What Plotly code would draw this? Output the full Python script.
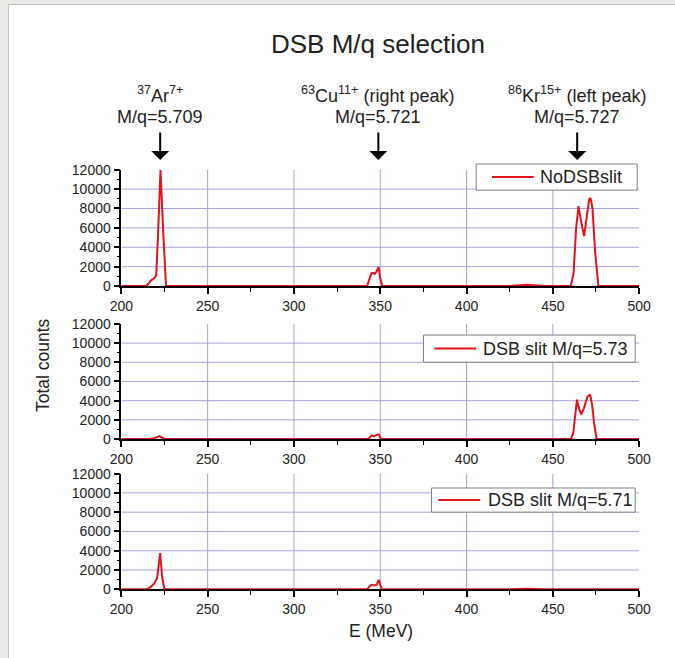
import plotly.graph_objects as go

# ---------------- data ----------------
SERIES_NAMES = ["NoDSBslit", "DSB slit M/q=5.73", "DSB slit M/q=5.71"]

E_NODSB = [200, 214.4, 216.0, 217.3, 219.0, 220.2, 221.2, 222.7, 224.3, 225.9,
           300, 342.4, 343.5, 344.9, 346.0, 346.8, 347.8, 349.1, 350.0, 351.2,
           425, 435, 445, 460.4, 462.0, 463.5, 464.9, 466.0, 468.1, 469.5,
           471.0, 471.8, 473.0, 474.5, 476.4, 500]
C_NODSB = [0, 0, 300, 600, 800, 1100, 5000, 12000, 5500, 0,
           0, 0, 600, 1300, 1350, 1250, 1500, 1950, 800, 0,
           0, 120, 0, 0, 1300, 6000, 8250, 7000, 5150, 6800,
           8900, 9100, 8000, 3500, 0, 0]

E_S573 = [200, 216.0, 219.0, 221.0, 222.3, 223.5, 225.0,
          300, 343.0, 344.9, 346.5, 347.5, 349.1, 350.5,
          400, 460.4, 461.8, 463.0, 464.0, 465.0, 466.4, 468.0,
          470.0, 471.6, 472.8, 474.0, 475.4, 500]
C_S573 = [0, 0, 80, 200, 300, 150, 0,
          0, 0, 350, 300, 400, 480, 0,
          0, 0, 600, 2500, 4100, 3300, 2550, 3200,
          4400, 4650, 3500, 1500, 0, 0]

E_S571 = [200, 215.0, 217.0, 219.2, 220.7, 222.5, 223.7, 225.0,
          300, 342.5, 343.6, 344.9, 346.5, 348.0, 349.1, 350.0, 350.9,
          425, 435, 445, 500]
C_S571 = [0, 0, 250, 630, 1150, 3760, 1200, 0,
          0, 0, 280, 460, 400, 480, 980, 400, 0,
          0, 60, 0, 0]

X_TICKS = [200, 250, 300, 350, 400, 450, 500]
X_MINOR = [225, 275, 325, 375, 425, 475]
Y_TICKS = [0, 2000, 4000, 6000, 8000, 10000, 12000]
X_GRID = [250, 300, 350, 400, 450]
Y_GRID = [2000, 4000, 6000, 8000, 10000]

ION_LABELS = ["<sup>37</sup>Ar<sup>7+</sup>",
              "<sup>63</sup>Cu<sup>11+</sup> (right peak)",
              "<sup>86</sup>Kr<sup>15+</sup> (left peak)"]
MQ_LABELS = ["M/q=5.709", "M/q=5.721", "M/q=5.727"]
ION_E = [222.5, 348.9, 464.1]

TITLE = "DSB M/q selection"
X_TITLE = "E (MeV)"
Y_TITLE = "Total counts"

# ---------------- layout helpers ----------------
W, H = 675, 658
OFF = 10                      # observed inner offset of the paper area
GW, GH = W - 2 * OFF, H - 2 * OFF
FONT = "Liberation Sans, Arial, sans-serif"
RED = "#e3121b"
GRID = "#a3a3dc"
TXT = "#222222"


def px_x(p):
    return (p - OFF) / GW


def px_y(p):
    return 1 - (p - OFF) / GH


x_dom = [px_x(120), px_x(641)]
y_doms = [[px_y(286.3), px_y(170.7)],
          [px_y(438.3), px_y(324.0)],
          [px_y(587.7), px_y(472.7)]]

data_sets = [(E_NODSB, C_NODSB), (E_S573, C_S573), (E_S571, C_S571)]
# legend boxes (pixel): left, right, top, bottom, line x0, line x1, text x
legend_boxes = [(477, 639, 165, 191, 493, 535, 539),
                (424, 637, 335, 362, 435, 477, 482),
                (432, 637, 487, 511, 439, 481, 487)]

fig = go.Figure()
shapes = []
annotations = []
layout_axes = {}

# outer frame card
shapes.append(dict(type="rect", xref="paper", yref="paper",
                   x0=px_x(6.5), x1=px_x(680), y0=px_y(665), y1=px_y(6.5),
                   fillcolor="white", line=dict(color="#c4c4c4", width=1),
                   layer="below"))

for i, ((ex, cy), name) in enumerate(zip(data_sets, SERIES_NAMES)):
    n = "" if i == 0 else str(i + 1)
    xa, ya = "x" + n, "y" + n
    fig.add_trace(go.Scatter(x=ex, y=cy, mode="lines", name=name,
                             line=dict(color=RED, width=2),
                             xaxis=xa, yaxis=ya, showlegend=False))
    axis_layer = "below traces" if i == 2 else "above traces"
    layout_axes["xaxis" + n] = dict(
        domain=x_dom, anchor=ya, range=[200, 500], tickvals=X_TICKS,
        ticktext=[str(v) for v in X_TICKS],
        showgrid=False, zeroline=False, showline=True, linecolor="black",
        linewidth=1.5, ticks="outside", ticklen=6, tickwidth=1.5,
        tickcolor="black", layer=axis_layer,
        tickfont=dict(family=FONT, size=14, color=TXT),
        minor=dict(tickvals=X_MINOR, ticks="outside",
                   ticklen=4, tickwidth=1.2, tickcolor="black", showgrid=False),
        fixedrange=True)
    layout_axes["yaxis" + n] = dict(
        domain=y_doms[i], anchor=xa, range=[0, 12000], tickvals=Y_TICKS,
        ticktext=[str(v) for v in Y_TICKS],
        showgrid=False, zeroline=False, showline=True, linecolor="black",
        linewidth=1.5, ticks="outside", ticklen=6, tickwidth=1.5,
        tickcolor="black", layer=axis_layer,
        tickfont=dict(family=FONT, size=14, color=TXT),
        minor=dict(dtick=1000, tick0=0, ticks="outside", ticklen=3,
                   tickwidth=1.2, tickcolor="black", showgrid=False),
        fixedrange=True)
    for xv in X_GRID:
        shapes.append(dict(type="line", xref=xa, yref=ya, x0=xv, x1=xv,
                           y0=0, y1=12000, line=dict(color=GRID, width=1),
                           layer="below"))
    for yv in Y_GRID:
        shapes.append(dict(type="line", xref=xa, yref=ya, x0=200, x1=500,
                           y0=yv, y1=yv, line=dict(color=GRID, width=1),
                           layer="below"))
    # legend box drawn as shapes + text
    l, r, t, b, lx0, lx1, tx = legend_boxes[i]
    cy_ = (t + b) / 2
    shapes.append(dict(type="rect", xref="paper", yref="paper",
                       x0=px_x(l), x1=px_x(r), y0=px_y(b), y1=px_y(t),
                       fillcolor="white", line=dict(color="#7f7f7f", width=1),
                       layer="above"))
    shapes.append(dict(type="line", xref="paper", yref="paper",
                       x0=px_x(lx0), x1=px_x(lx1), y0=px_y(cy_), y1=px_y(cy_),
                       line=dict(color=RED, width=2), layer="above"))
    annotations.append(dict(x=px_x(tx), y=px_y(cy_), xref="paper",
                            yref="paper", text=name, showarrow=False,
                            xanchor="left", yanchor="middle",
                            font=dict(family=FONT, size=18, color=TXT)))

for lab, mq, e in zip(ION_LABELS, MQ_LABELS, ION_E):
    annotations.append(dict(x=e, xref="x", y=px_y(96), yref="paper",
                            text=lab, showarrow=False, xanchor="center",
                            yanchor="middle",
                            font=dict(family=FONT, size=18, color=TXT)))
    annotations.append(dict(x=e, xref="x", y=px_y(118), yref="paper",
                            text=mq, showarrow=False, xanchor="center",
                            yanchor="middle",
                            font=dict(family=FONT, size=18, color=TXT)))
    annotations.append(dict(x=e, xref="x", y=px_y(161), yref="paper",
                            ax=0, ay=-29, text="", showarrow=True,
                            arrowhead=1, arrowsize=1.5, arrowwidth=2,
                            arrowcolor="black"))

annotations.append(dict(x=px_x(41), y=px_y(365), xref="paper", yref="paper",
                        text=Y_TITLE, textangle=-90, showarrow=False,
                        xanchor="center", yanchor="middle",
                        font=dict(family=FONT, size=17.5, color=TXT)))
annotations.append(dict(x=px_x(381), y=px_y(629), xref="paper", yref="paper",
                        text=X_TITLE, showarrow=False,
                        xanchor="center", yanchor="middle",
                        font=dict(family=FONT, size=17.5, color=TXT)))
annotations.append(dict(x=px_x(378), y=px_y(46), xref="paper", yref="paper",
                        text=TITLE, showarrow=False,
                        xanchor="center", yanchor="middle",
                        font=dict(family=FONT, size=26, color=TXT)))

fig.update_layout(
    width=W, height=H, margin=dict(l=0, r=0, t=0, b=0),
    paper_bgcolor="#ebe9e6", plot_bgcolor="white",
    shapes=shapes, annotations=annotations, **layout_axes)

fig.write_html("out.html", config={"displayModeBar": False},
               post_script="document.body.style.margin='0';"
                           "document.body.style.overflow='hidden';")
